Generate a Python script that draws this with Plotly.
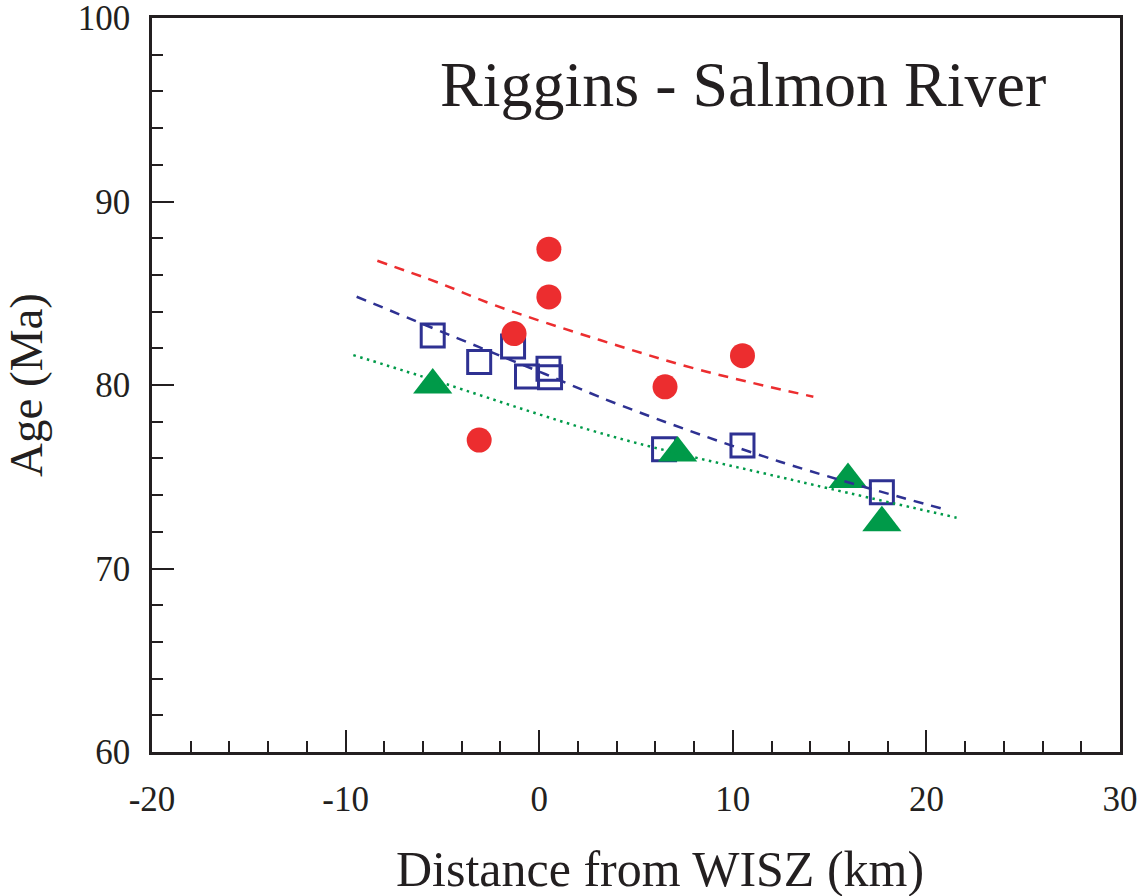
import plotly.graph_objects as go

# ---- data ----
red_x = [0.5, 0.5, -1.3, -3.1, 6.5, 10.5]
red_y = [87.4, 84.8, 82.8, 77.0, 79.9, 81.6]

blue_x = [-5.5, -3.1, -1.35, -0.63, 0.48, 0.56, 6.45, 10.5, 17.7]
blue_y = [82.7, 81.25, 82.1, 80.47, 80.89, 80.42, 76.5, 76.7, 74.15]

green_x = [-5.5, 7.15, 15.95, 17.7]
green_y = [80.0, 76.3, 74.85, 72.5]

red_fit_x = [-8.36, -5.12, -2.2, 3.14, 8.31, 14.16]
red_fit_y = [86.77, 85.54, 84.31, 82.45, 80.82, 79.36]

blue_fit_x = [-9.43, -3.16, 0.0, 4.17, 12.44, 21.05]
blue_fit_y = [84.81, 82.09, 80.73, 78.91, 75.82, 73.19]

green_fit_x = [-9.6, -6.0, 3.83, 13.47, 21.56]
green_fit_y = [81.63, 80.45, 77.18, 74.73, 72.77]

x_ticks = [-20, -10, 0, 10, 20, 30]
y_ticks = [60, 70, 80, 90, 100]

RED = "#EC2D2F"
BLUE = "#2E3192"
GREEN = "#009A49"
INK = "#231F20"
FONT = "Liberation Serif"

fig = go.Figure()
fig.add_trace(go.Scatter(x=blue_x, y=blue_y, mode="markers",
                         marker=dict(symbol="square-open", size=23, color=BLUE,
                                     line=dict(width=3, color=BLUE))))
fig.add_trace(go.Scatter(x=green_x, y=green_y, mode="markers",
                         marker=dict(symbol="triangle-up", size=34, color=GREEN)))
fig.add_trace(go.Scatter(x=green_fit_x, y=green_fit_y, mode="lines",
                         line=dict(color=GREEN, width=2.5, dash="2.5px,4.5px", shape="spline")))
fig.add_trace(go.Scatter(x=blue_fit_x, y=blue_fit_y, mode="lines",
                         line=dict(color=BLUE, width=2.5, dash="10px,8px", shape="spline")))
fig.add_trace(go.Scatter(x=red_fit_x, y=red_fit_y, mode="lines",
                         line=dict(color=RED, width=2.5, dash="10px,8px", shape="spline")))
fig.add_trace(go.Scatter(x=red_x, y=red_y, mode="markers",
                         marker=dict(symbol="circle", size=25, color=RED)))

axis_common = dict(
    showline=True, mirror=True, linewidth=2.5, linecolor=INK,
    showgrid=False, zeroline=False, automargin=False,
    ticks="inside", ticklen=22, tickwidth=1.5, tickcolor=INK,
    tickfont=dict(family=FONT, size=35, color=INK),
    ticklabeloverflow="allow",
    minor=dict(ticks="inside", ticklen=11, tickwidth=1.5, tickcolor=INK, dtick=2),
)

fig.update_layout(
    width=1145, height=896,
    margin=dict(l=152, r=25, t=18, b=144),
    paper_bgcolor="white", plot_bgcolor="white",
    showlegend=False,
    font=dict(family=FONT, color=INK),
    xaxis=dict(range=[-20, 30], tickvals=x_ticks, ticktext=[str(v) for v in x_ticks],
               ticklabelstandoff=14,
               **axis_common),
    yaxis=dict(range=[60, 100], tickvals=y_ticks, ticktext=[str(v) for v in y_ticks],
               title=dict(text="Age (Ma)", font=dict(family=FONT, size=47, color=INK),
                          standoff=34),
               ticklabelstandoff=12,
               **axis_common),
)

fig.add_annotation(text="Riggins - Salmon River", xref="paper", yref="paper",
                   x=0.2955, y=0.909, xanchor="left", yanchor="middle", showarrow=False,
                   font=dict(family=FONT, size=64, color=INK))

fig.add_annotation(text="Distance from WISZ (km)", xref="paper", yref="paper",
                   x=0.525, y=-0.16, xanchor="center", yanchor="middle", showarrow=False,
                   font=dict(family=FONT, size=50, color=INK))

fig.write_html("out.html")
